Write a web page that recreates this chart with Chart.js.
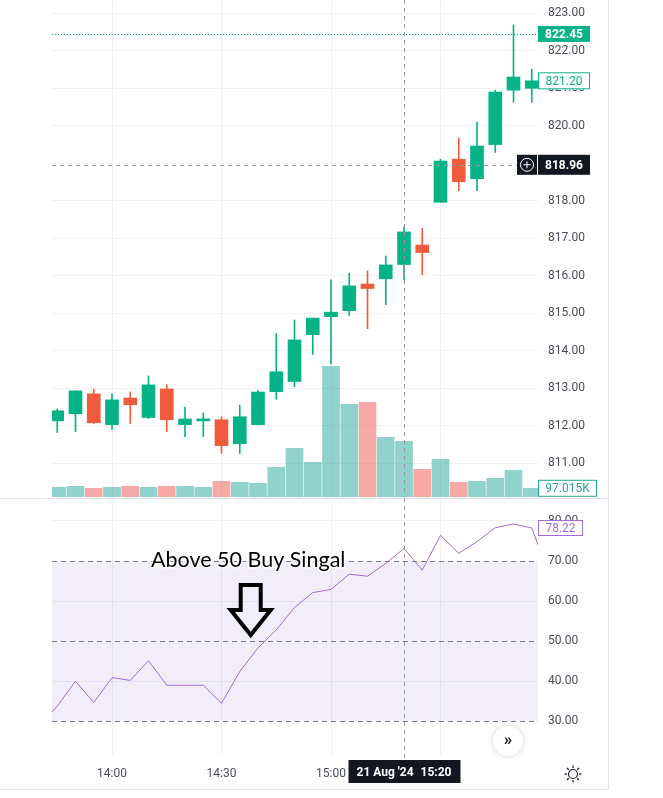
<!DOCTYPE html>
<html>
<head>
<meta charset="utf-8">
<script src="https://cdn.jsdelivr.net/npm/chart.js@4.4.1/dist/chart.umd.min.js"></script>
<style>
  html, body { margin: 0; background: #fff; }
  #wrap { position: relative; width: 608px; height: 789px; border-right: 1px solid #E0E3EB; border-bottom: 1px solid #E0E3EB; }
  #priceChart { position: absolute; left: 0; top: 0; }
  #rsiChart { position: absolute; left: 0; top: 498px; }
</style>
</head>
<body>
<div id="wrap">
  <canvas id="priceChart" width="608" height="497"></canvas>
  <canvas id="rsiChart" width="608" height="291"></canvas>
</div>
<script>
// 5-minute candles, 21 Aug '24
const barTimes = ['13:45', '13:50', '13:55', '14:00', '14:05', '14:10', '14:15', '14:20', '14:25',
  '14:30', '14:35', '14:40', '14:45', '14:50', '14:55', '15:00', '15:05', '15:10', '15:15',
  '15:20', '15:25', '15:30', '15:35', '15:40', '15:45', '15:50', '15:55'];
const opens  = [812.13, 812.32, 812.85, 812.03, 812.74, 812.22, 812.98, 812.03, 812.13,
  812.16, 811.52, 812.03, 812.91, 813.18, 814.43, 814.91, 815.07, 815.78, 815.92,
  816.30, 816.82, 817.96, 819.11, 818.59, 819.50, 820.95, 821.00];
const highs  = [812.45, 812.93, 812.98, 812.85, 812.90, 813.33, 813.09, 812.50, 812.34,
  812.24, 812.55, 812.94, 814.46, 814.82, 814.87, 815.89, 816.07, 816.13, 816.53,
  817.30, 817.27, 819.11, 819.67, 820.09, 820.95, 822.69, 821.51];
const lows   = [811.82, 811.84, 812.06, 811.90, 812.06, 812.19, 811.84, 811.71, 811.71,
  811.26, 811.26, 812.03, 812.71, 813.04, 813.90, 813.65, 814.94, 814.59, 815.23,
  815.89, 816.03, 817.96, 818.27, 818.27, 819.29, 820.63, 820.63];
const closes = [812.40, 812.93, 812.08, 812.69, 812.56, 813.09, 812.16, 812.18, 812.18,
  811.47, 812.24, 812.90, 813.44, 814.29, 814.87, 815.03, 815.73, 815.66, 816.29,
  817.17, 816.62, 819.06, 818.51, 819.46, 820.90, 821.30, 821.20];
// volume in thousands
const volumes = [108, 119, 97, 108, 119, 108, 119, 119, 108,
  175, 164, 153, 331, 543, 387, 1457, 1034, 1056, 666,
  621, 309, 420, 164, 175, 208, 298, 97.015];

// RSI runs one bar past each edge of the view
const rsiTimes = ['13:40', '13:45', '13:50', '13:55', '14:00', '14:05', '14:10', '14:15', '14:20',
  '14:25', '14:30', '14:35', '14:40', '14:45', '14:50', '14:55', '15:00', '15:05', '15:10',
  '15:15', '15:20', '15:25', '15:30', '15:35', '15:40', '15:45', '15:50', '15:55', '16:00'];
const rsiValues = [28.5, 33.8, 40.0, 34.7, 40.9, 40.2, 45.1, 39.0, 39.0,
  39.0, 34.5, 42.4, 48.3, 52.8, 58.4, 62.1, 62.9, 66.7, 66.2,
  69.4, 73.1, 67.7, 76.4, 71.9, 74.8, 78.3, 79.2, 78.22, 66.0];
const rsiLevels = [70, 50, 30];

const timeTicks = ['14:00', '14:30', '15:00', '15:30'];

const highLine = 822.45;
const crossPrice = 818.96;
const crossTime = '15:20';
const crossDate = "21 Aug '24";
const lastRsi = 78.22;
const noteText = 'Above 50 Buy Singal';
const noteTime = '14:38';
const noteValue = 51.5;

const UP = '#06B387';
const DOWN = '#EF5B3C';
const VOL_UP = 'rgba(38, 166, 154, 0.5)';
const VOL_DOWN = 'rgba(239, 83, 80, 0.5)';
const RSI_COLOR = '#A36AD9';
const GRID = '#F0F1F3';
const TXT = '#4A4D57';
const DARK = '#131722';
const FONT = 'Roboto, "Liberation Sans", sans-serif';

function toMin(t) {
  const p = t.split(':');
  return +p[0] * 60 + +p[1];
}

const xMin = toMin(barTimes[0]) - 1.44;
const xMax = toMin(barTimes[barTimes.length - 1]) + 1.71;

const isUp = closes.map((c, i) => c >= opens[i]);
const candleColors = isUp.map(u => u ? UP : DOWN);
const volColors = isUp.map(u => u ? VOL_UP : VOL_DOWN);

// keep the plot areas flush with the canvas edges
function noPad(s) {
  s.paddingTop = 0;
  s.paddingBottom = 0;
  s.paddingLeft = 0;
  s.paddingRight = 0;
}

function tag(ctx, x, y, w, h, text, fill, stroke, color, bold) {
  ctx.save();
  ctx.fillStyle = fill;
  ctx.fillRect(x, y - h / 2, w, h);
  if (stroke) {
    ctx.strokeStyle = stroke;
    ctx.lineWidth = 1;
    ctx.strokeRect(x + 0.5, y - h / 2 + 0.5, w - 1, h - 1);
  }
  ctx.fillStyle = color;
  ctx.font = (bold ? 'bold ' : '') + '12px ' + FONT;
  ctx.textAlign = 'center';
  ctx.textBaseline = 'middle';
  ctx.fillText(text, x + w / 2, y + 1);
  ctx.restore();
}

function timeAxis(extra, height) {
  return Object.assign({
    type: 'linear',
    min: xMin,
    max: xMax,
    offset: false,
    grid: { color: GRID, drawTicks: false, offset: false },
    border: { display: false },
    afterBuildTicks: s => { s.ticks = timeTicks.map(t => ({ value: toMin(t) })); },
    afterFit: s => { noPad(s); s.height = height; }
  }, extra);
}

const pricePane = {
  id: 'pricePane',
  afterDatasetsDraw(chart) {
    const { ctx, chartArea: a, scales: { x, y, vol } } = chart;
    ctx.save();
    // dotted line at the session high
    const yh = Math.round(y.getPixelForValue(highLine)) + 0.5;
    ctx.strokeStyle = UP;
    ctx.lineWidth = 1;
    ctx.setLineDash([1, 2]);
    ctx.beginPath(); ctx.moveTo(a.left, yh); ctx.lineTo(a.right, yh); ctx.stroke();
    // crosshair
    const yc = Math.round(y.getPixelForValue(crossPrice)) + 0.5;
    const xc = Math.round(x.getPixelForValue(toMin(crossTime))) + 0.5;
    ctx.strokeStyle = '#9598A1';
    ctx.setLineDash([4, 4]);
    ctx.beginPath(); ctx.moveTo(a.left, yc); ctx.lineTo(a.right - 21, yc); ctx.stroke();
    ctx.beginPath(); ctx.moveTo(xc, a.top); ctx.lineTo(xc, a.bottom); ctx.stroke();
    ctx.restore();

    // price scale labels
    tag(ctx, a.right, y.getPixelForValue(highLine), 52, 16, highLine.toFixed(2), UP, null, '#fff', true);
    const lastClose = closes[closes.length - 1];
    tag(ctx, a.right, y.getPixelForValue(lastClose), 52, 17, lastClose.toFixed(2), '#fff', UP, UP, false);
    tag(ctx, a.right, y.getPixelForValue(crossPrice), 52, 20, crossPrice.toFixed(2), DARK, null, '#fff', true);

    // "+" button left of the crosshair price
    ctx.save();
    const ycp = y.getPixelForValue(crossPrice);
    ctx.fillStyle = DARK;
    ctx.fillRect(a.right - 21, ycp - 10, 20, 20);
    ctx.strokeStyle = '#fff';
    ctx.lineWidth = 1;
    ctx.beginPath(); ctx.arc(a.right - 11, ycp, 6.5, 0, Math.PI * 2); ctx.stroke();
    ctx.beginPath();
    ctx.moveTo(a.right - 14.5, ycp); ctx.lineTo(a.right - 7.5, ycp);
    ctx.moveTo(a.right - 11, ycp - 3.5); ctx.lineTo(a.right - 11, ycp + 3.5);
    ctx.stroke();
    ctx.restore();

    // volume label
    const lastVol = volumes[volumes.length - 1];
    const yv = Math.min(vol.getPixelForValue(lastVol), a.bottom - 8.5);
    tag(ctx, a.right, yv, 59, 17, lastVol.toFixed(3) + 'K', '#fff', '#26A69A', '#26A69A', false);
  }
};

const rsiPane = {
  id: 'rsiPane',
  beforeDatasetsDraw(chart) {
    const { ctx, chartArea: a, scales: { y } } = chart;
    ctx.save();
    const yTop = y.getPixelForValue(Math.max(...rsiLevels));
    const yBot = y.getPixelForValue(Math.min(...rsiLevels));
    ctx.fillStyle = 'rgba(126, 87, 194, 0.1)';
    ctx.fillRect(a.left, yTop, a.right - a.left, yBot - yTop);
    ctx.strokeStyle = '#787B86';
    ctx.lineWidth = 1;
    ctx.setLineDash([5, 4]);
    rsiLevels.forEach(v => {
      const yy = Math.round(y.getPixelForValue(v)) + 0.5;
      ctx.beginPath(); ctx.moveTo(a.left, yy); ctx.lineTo(a.right, yy); ctx.stroke();
    });
    ctx.restore();
  },
  afterDraw(chart) {
    const { ctx, chartArea: a, scales: { x, y } } = chart;
    ctx.save();
    // pane separator
    ctx.strokeStyle = '#E0E3EB';
    ctx.lineWidth = 1;
    ctx.beginPath(); ctx.moveTo(0, 0.5); ctx.lineTo(chart.width, 0.5); ctx.stroke();

    // crosshair
    const xc = Math.round(x.getPixelForValue(toMin(crossTime))) + 0.5;
    ctx.strokeStyle = '#9598A1';
    ctx.setLineDash([4, 4]);
    ctx.beginPath(); ctx.moveTo(xc, a.top); ctx.lineTo(xc, a.bottom + 5); ctx.stroke();
    ctx.setLineDash([]);

    // annotation
    const tx = x.getPixelForValue(toMin(noteTime));
    const ty = y.getPixelForValue(noteValue);
    ctx.font = '21.5px Lato, "Open Sans", sans-serif';
    ctx.textAlign = 'center';
    ctx.textBaseline = 'alphabetic';
    ctx.lineWidth = 3;
    ctx.strokeStyle = '#fff';
    ctx.lineJoin = 'round';
    ctx.strokeText(noteText, tx - 2.5, ty - 68);
    ctx.fillStyle = '#000';
    ctx.fillText(noteText, tx - 2.5, ty - 68);
    ctx.beginPath();
    ctx.moveTo(tx, ty);
    ctx.lineTo(tx - 20, ty - 25);
    ctx.lineTo(tx - 10, ty - 25);
    ctx.lineTo(tx - 10, ty - 50);
    ctx.lineTo(tx + 10, ty - 50);
    ctx.lineTo(tx + 10, ty - 25);
    ctx.lineTo(tx + 20, ty - 25);
    ctx.closePath();
    ctx.lineJoin = 'miter';
    ctx.lineWidth = 4;
    ctx.strokeStyle = '#000';
    ctx.stroke();
    ctx.restore();

    // RSI value label
    tag(ctx, a.right, y.getPixelForValue(lastRsi), 45, 16, lastRsi.toFixed(2), '#fff', RSI_COLOR, RSI_COLOR, false);

    // time label under the crosshair
    ctx.save();
    const yb = a.bottom + 16.5;
    ctx.fillStyle = DARK;
    ctx.fillRect(xc - 56, yb - 11.5, 112, 23);
    ctx.fillStyle = '#fff';
    ctx.font = 'bold 12px ' + FONT;
    ctx.textBaseline = 'middle';
    ctx.textAlign = 'left';
    ctx.fillText(crossDate, xc - 48, yb + 1);
    ctx.textAlign = 'right';
    ctx.fillText(crossTime, xc + 47, yb + 1);

    // scroll-to-realtime button
    const bx = a.right - 30, by = a.bottom - 14;
    ctx.shadowColor = 'rgba(0,0,0,0.18)';
    ctx.shadowBlur = 6;
    ctx.fillStyle = '#fff';
    ctx.beginPath(); ctx.arc(bx, by, 15, 0, Math.PI * 2); ctx.fill();
    ctx.shadowBlur = 0;
    ctx.fillStyle = DARK;
    ctx.font = 'bold 17px ' + FONT;
    ctx.textAlign = 'center';
    ctx.fillText('\u00BB', bx, by);

    // settings icon
    const sx = a.right + 35, sy = a.bottom + 19;
    ctx.strokeStyle = DARK;
    ctx.lineWidth = 1.2;
    ctx.beginPath(); ctx.arc(sx, sy, 4.5, 0, Math.PI * 2); ctx.stroke();
    for (let k = 0; k < 8; k++) {
      const ang = k * Math.PI / 4;
      ctx.beginPath();
      ctx.moveTo(sx + Math.cos(ang) * 6, sy + Math.sin(ang) * 6);
      ctx.lineTo(sx + Math.cos(ang) * 8.5, sy + Math.sin(ang) * 8.5);
      ctx.stroke();
    }
    ctx.restore();
  }
};

Chart.defaults.font.family = FONT;
Chart.defaults.font.size = 12;
Chart.defaults.color = TXT;

new Chart(document.getElementById('priceChart'), {
  type: 'bar',
  data: {
    datasets: [
      {
        label: 'Volume',
        yAxisID: 'vol',
        data: barTimes.map((t, i) => ({ x: toMin(t), y: volumes[i] })),
        backgroundColor: volColors,
        barThickness: 17,
        grouped: false,
        order: 3
      },
      {
        label: 'Wick',
        yAxisID: 'y',
        data: barTimes.map((t, i) => ({ x: toMin(t), y: [lows[i], highs[i]] })),
        backgroundColor: candleColors,
        barThickness: 1,
        grouped: false,
        order: 2
      },
      {
        label: 'Body',
        yAxisID: 'y',
        data: barTimes.map((t, i) => ({ x: toMin(t), y: [opens[i], closes[i]] })),
        backgroundColor: candleColors,
        barThickness: 13,
        minBarLength: 2,
        grouped: false,
        order: 1
      }
    ]
  },
  options: {
    responsive: false,
    animation: false,
    events: [],
    layout: { padding: { left: 52, top: 0, right: 0, bottom: 0 }, autoPadding: false },
    plugins: { legend: { display: false }, tooltip: { enabled: false } },
    scales: {
      x: timeAxis({ ticks: { display: false } }, 0),
      y: {
        position: 'right',
        min: 810.10,
        max: 823.355,
        grid: { color: GRID, drawTicks: false },
        border: { display: false },
        ticks: { stepSize: 1, includeBounds: false, padding: 10, callback: v => v.toFixed(2) },
        afterFit: s => { noPad(s); s.width = 70; }
      },
      vol: { display: false, min: 0, max: 5542 }
    }
  },
  plugins: [pricePane]
});

new Chart(document.getElementById('rsiChart'), {
  type: 'line',
  data: {
    datasets: [{
      label: 'RSI',
      data: rsiTimes.map((t, i) => ({ x: toMin(t), y: rsiValues[i] })),
      borderColor: RSI_COLOR,
      borderWidth: 1,
      pointRadius: 0,
      tension: 0,
      fill: false
    }]
  },
  options: {
    responsive: false,
    animation: false,
    events: [],
    layout: { padding: { left: 52, top: 0, right: 0, bottom: 0 }, autoPadding: false },
    plugins: { legend: { display: false }, tooltip: { enabled: false } },
    scales: {
      x: timeAxis({
        ticks: { padding: 12, autoSkip: false, maxRotation: 0, callback: (v, i) => timeTicks[i] }
      }, 34),
      y: {
        position: 'right',
        min: 21.6,
        max: 85.7,
        grid: { color: c => c.tick && c.tick.value % 20 === 0 ? GRID : 'rgba(0,0,0,0)', drawTicks: false },
        border: { display: false },
        ticks: { stepSize: 10, includeBounds: false, padding: 10, callback: v => v.toFixed(2) },
        afterFit: s => { noPad(s); s.width = 70; }
      }
    }
  },
  plugins: [rsiPane]
});
</script>
</body>
</html>
